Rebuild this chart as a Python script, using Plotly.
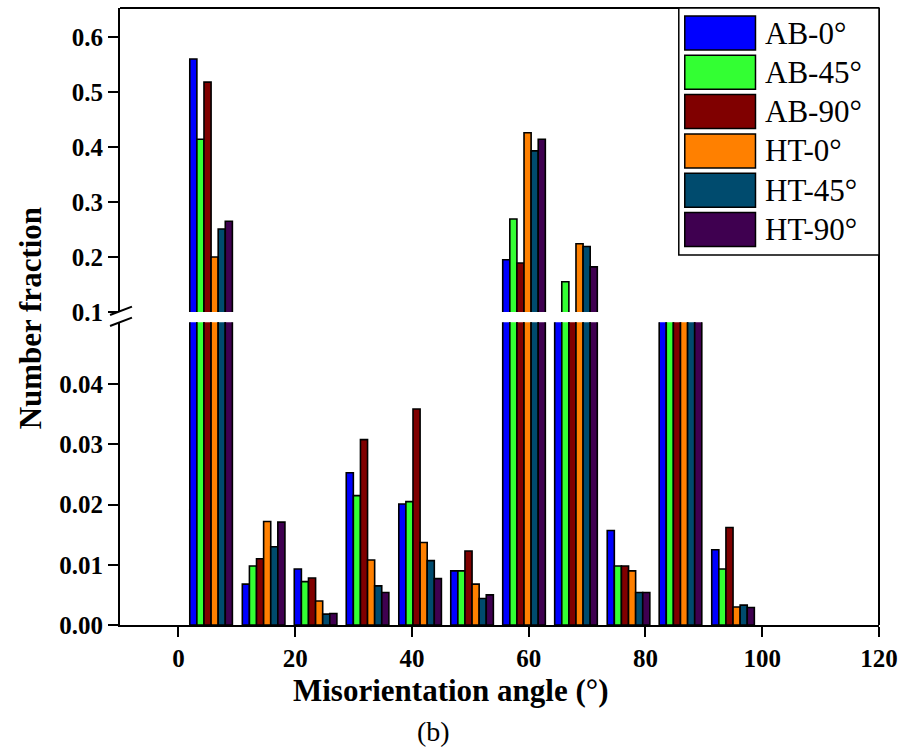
import plotly.graph_objects as go

# Misorientation angle bins (bin centres, degrees)
angles = [5.6, 14.6, 23.5, 32.4, 41.4, 50.3, 59.2, 68.1, 77.1, 86.0, 95.0]

series_names = ["AB-0°", "AB-45°", "AB-90°", "HT-0°", "HT-45°", "HT-90°"]

ab_0 = [0.560, 0.0068, 0.0093, 0.0253, 0.0201, 0.0090, 0.195, 0.092, 0.0157, 0.062, 0.0125]
ab_45 = [0.414, 0.0098, 0.0072, 0.0215, 0.0205, 0.0090, 0.269, 0.155, 0.0098, 0.071, 0.0093]
ab_90 = [0.518, 0.0110, 0.0078, 0.0308, 0.0359, 0.0123, 0.189, 0.087, 0.0098, 0.058, 0.0162]
ht_0 = [0.200, 0.0172, 0.0040, 0.0108, 0.0137, 0.0068, 0.426, 0.224, 0.0090, 0.083, 0.0030]
ht_45 = [0.251, 0.0130, 0.0018, 0.0065, 0.0107, 0.0044, 0.393, 0.219, 0.0054, 0.079, 0.0033]
ht_90 = [0.265, 0.0171, 0.0019, 0.0054, 0.0077, 0.0050, 0.414, 0.182, 0.0054, 0.088, 0.0029]

series_values = [ab_0, ab_45, ab_90, ht_0, ht_45, ht_90]
colors = ["#0000FF", "#33FF33", "#800000", "#FF8000", "#004B6E", "#3F0050"]

lower_ticks = [0.0, 0.01, 0.02, 0.03, 0.04]
lower_ticktext = ["0.00", "0.01", "0.02", "0.03", "0.04"]
upper_ticks = [0.1, 0.2, 0.3, 0.4, 0.5, 0.6]
upper_ticktext = ["0.1", "0.2", "0.3", "0.4", "0.5", "0.6"]
x_ticks = [0, 20, 40, 60, 80, 100, 120]

W, H = 906, 747
ML, MR, MT, MB = 120, 24, 8, 122
PW, PH = W - ML - MR, H - MT - MB

def px(x):
    return (x - ML) / PW

def py(y):
    return (H - MB - y) / PH

SERIF = "Liberation Serif"
tick_font = dict(family=SERIF, size=25, color="black", weight="bold")

fig = go.Figure()

# the same bars are drawn on both halves of the broken y axis
for name, vals, col in zip(series_names, series_values, colors):
    for yax in ("y", "y2"):
        fig.add_trace(go.Bar(
            x=angles, y=vals, name=name, yaxis=yax, xaxis="x",
            marker=dict(color=col, line=dict(color="black", width=1.6)),
            showlegend=False,
        ))

lo_top = py(322.3)
hi_bot = py(312)

axis_common = dict(
    showline=True, linecolor="black", linewidth=2,
    ticks="outside", ticklen=10, tickwidth=2, tickcolor="black",
    showgrid=False, zeroline=False, tickfont=tick_font,
)

fig.update_layout(
    width=W, height=H,
    margin=dict(l=ML, r=MR, t=MT, b=MB),
    paper_bgcolor="white", plot_bgcolor="white",
    barmode="group", bargap=0.18, bargroupgap=0,
    xaxis=dict(range=[-10, 120], tickvals=x_ticks, anchor="y", **axis_common),
    yaxis=dict(domain=[0, lo_top], range=[0, 0.0503], tickvals=lower_ticks,
               ticktext=lower_ticktext, anchor="x", **axis_common),
    yaxis2=dict(domain=[hi_bot, 1], range=[0.1, 0.6527], tickvals=upper_ticks,
                ticktext=upper_ticktext, anchor="x", **axis_common),
)

shapes = []
# top and right frame lines
shapes.append(dict(type="line", xref="paper", yref="paper", x0=0, x1=1, y0=1, y1=1,
                   line=dict(color="black", width=2)))
shapes.append(dict(type="line", xref="paper", yref="paper", x0=1, x1=1, y0=0, y1=1,
                   line=dict(color="black", width=2)))
# axis break marks
for (x0, y0, x1, y1) in [(110, 315, 132, 306.6), (110, 326, 132, 317.6)]:
    shapes.append(dict(type="line", xref="paper", yref="paper",
                       x0=px(x0), y0=py(y0), x1=px(x1), y1=py(y1),
                       line=dict(color="black", width=2)))

# legend box
shapes.append(dict(type="rect", xref="paper", yref="paper",
                   x0=px(681), x1=px(882), y0=py(255), y1=py(8),
                   fillcolor="white", line=dict(color="black", width=1.5)))

annotations = []
row_h = 39.3
for i, (name, col) in enumerate(zip(series_names, colors)):
    top = 16 + i * row_h
    shapes.append(dict(type="rect", xref="paper", yref="paper",
                       x0=px(687), x1=px(758), y0=py(top + 34), y1=py(top),
                       fillcolor=col, line=dict(color="black", width=1.5)))
    annotations.append(dict(xref="paper", yref="paper", x=px(766), y=py(top + 17),
                            text=name, showarrow=False, xanchor="left", yanchor="middle",
                            font=dict(family=SERIF, size=31, color="black")))

annotations.append(dict(xref="paper", yref="paper", x=px(30), y=py(318),
                        text="Number fraction", textangle=-90, showarrow=False,
                        xanchor="center", yanchor="middle",
                        font=dict(family=SERIF, size=31, color="black", weight="bold")))
annotations.append(dict(xref="paper", yref="paper", x=px(452), y=py(690),
                        text="Misorientation angle (°)", showarrow=False,
                        xanchor="center", yanchor="middle",
                        font=dict(family=SERIF, size=31, color="black", weight="bold")))
annotations.append(dict(xref="paper", yref="paper", x=px(435), y=py(731),
                        text="(b)", showarrow=False,
                        xanchor="center", yanchor="middle",
                        font=dict(family=SERIF, size=28, color="black")))

fig.update_layout(shapes=shapes, annotations=annotations)

fig.write_html("out.html")
